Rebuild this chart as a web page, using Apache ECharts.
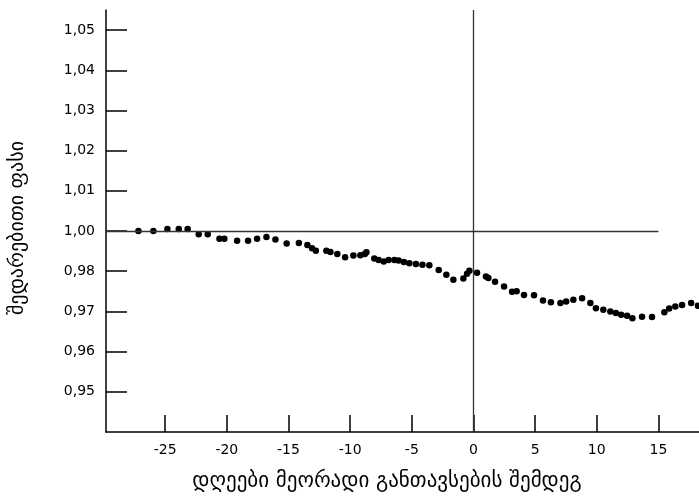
<!DOCTYPE html>
<html>
<head>
<meta charset="utf-8">
<script src="https://cdn.jsdelivr.net/npm/echarts@6/dist/echarts.min.js"></script>
<style>
  html, body { margin: 0; padding: 0; background: #fff; }
  #main { width: 699px; height: 496px; }
</style>
</head>
<body>
<div id="main"></div>
<script>
// დღეები მეორადი განთავსების შემდეგ
var days = [-27.17, -25.96, -24.82, -23.90, -23.18, -22.28, -21.55, -20.60, -20.20, -19.17,
  -18.28, -17.55, -16.79, -16.06, -15.15, -14.16, -13.47, -13.09, -12.78, -11.93,
  -11.60, -11.04, -10.41, -9.74, -9.17, -8.81, -8.68, -8.04, -7.69, -7.28,
  -6.88, -6.41, -6.07, -5.64, -5.20, -4.67, -4.14, -3.58, -2.82, -2.20,
  -1.63, -0.82, -0.52, -0.33, 0.29, 1.01, 1.21, 1.75, 2.48, 3.13,
  3.50, 4.10, 4.91, 5.64, 6.28, 7.05, 7.52, 8.10, 8.81, 9.48,
  9.93, 10.53, 11.10, 11.55, 11.98, 12.46, 12.89, 13.67, 14.48, 15.48,
  15.87, 16.37, 16.92, 17.65, 18.20];
// შედარებითი ფასი
var price = [1.0000, 1.0000, 1.0005, 1.0005, 1.0005, 0.9992, 0.9992, 0.9981, 0.9981, 0.9976,
  0.9976, 0.9981, 0.9985, 0.9979, 0.9969, 0.9970, 0.9965, 0.9957, 0.9951, 0.9951,
  0.9948, 0.9943, 0.9935, 0.9939, 0.9940, 0.9943, 0.9947, 0.9932, 0.9928, 0.9924,
  0.9928, 0.9928, 0.9927, 0.9923, 0.9920, 0.9918, 0.9916, 0.9915, 0.9903, 0.9891,
  0.9879, 0.9882, 0.9894, 0.9901, 0.9896, 0.9887, 0.9883, 0.9874, 0.9862, 0.9849,
  0.9850, 0.9841, 0.9840, 0.9827, 0.9823, 0.9821, 0.9825, 0.9829, 0.9833, 0.9821,
  0.9808, 0.9804, 0.9800, 0.9796, 0.9792, 0.9789, 0.9783, 0.9787, 0.9786, 0.9798,
  0.9807, 0.9812, 0.9816, 0.9821, 0.9814];

var xTicks = [-25, -20, -15, -10, -5, 0, 5, 10, 15];
// ticks are evenly spaced but the original labels skip 0,99
var yTicks = [0.96, 0.97, 0.98, 0.99, 1.00, 1.01, 1.02, 1.03, 1.04, 1.05];
var yTickLabels = ['0,95', '0,96', '0,97', '0,98', '1,00', '1,01', '1,02', '1,03', '1,04', '1,05'];

var refLevel = 1.00;
var refLineEnd = 15;
var eventDay = 0;

var xMin = -29.8, xMax = 18.29, yMin = 0.95, yMax = 1.055;

var font = 'DejaVu Sans';

var points = days.map(function (d, i) { return [d, price[i]]; });

var myChart = echarts.init(document.getElementById('main'));

var option = {
  animation: false,
  backgroundColor: '#fff',
  grid: { left: 106, right: 0, top: 10, bottom: 64, outerBoundsMode: 'none', containLabel: false },
  xAxis: {
    type: 'value',
    min: xMin,
    max: xMax,
    name: 'დღეები მეორადი განთავსების შემდეგ',
    nameLocation: 'middle',
    nameGap: 39,
    nameTextStyle: { fontFamily: font, fontSize: 21, color: '#000', padding: [0, 31, 0, 0] },
    axisLine: { onZero: false, lineStyle: { color: '#000', width: 1.5 } },
    axisTick: { inside: true, length: 17, customValues: xTicks, lineStyle: { color: '#000', width: 1.5 } },
    axisLabel: { customValues: xTicks, margin: 11, fontFamily: font, fontSize: 14, color: '#000' },
    splitLine: { show: false }
  },
  yAxis: {
    type: 'value',
    min: yMin,
    max: yMax,
    name: 'შედარებითი ფასი',
    nameLocation: 'middle',
    nameGap: 78,
    nameTextStyle: { fontFamily: font, fontSize: 20, color: '#000', padding: [0, 14, 0, 0] },
    axisLine: { show: true, onZero: false, lineStyle: { color: '#000', width: 1.5 } },
    axisTick: { show: true, inside: true, length: 21, customValues: yTicks, lineStyle: { color: '#000', width: 1.5 } },
    axisLabel: {
      customValues: yTicks,
      margin: 11,
      fontFamily: font,
      fontSize: 14,
      color: '#000',
      formatter: function (v) {
        for (var i = 0; i < yTicks.length; i++) {
          if (Math.abs(yTicks[i] - v) < 1e-6) return yTickLabels[i];
        }
        return '';
      }
    },
    splitLine: { show: false }
  },
  series: [
    {
      type: 'scatter',
      data: points,
      symbol: 'circle',
      symbolSize: 6.5,
      clip: false,
      itemStyle: { color: '#000', opacity: 1 },
      markLine: {
        silent: true,
        symbol: 'none',
        label: { show: false },
        lineStyle: { color: '#333', width: 1.3, type: 'solid' },
        data: [
          [{ coord: [xMin, refLevel] }, { coord: [refLineEnd, refLevel] }],
          [{ coord: [eventDay, yMin] }, { coord: [eventDay, yMax] }]
        ]
      }
    }
  ]
};

myChart.setOption(option);
</script>
</body>
</html>
